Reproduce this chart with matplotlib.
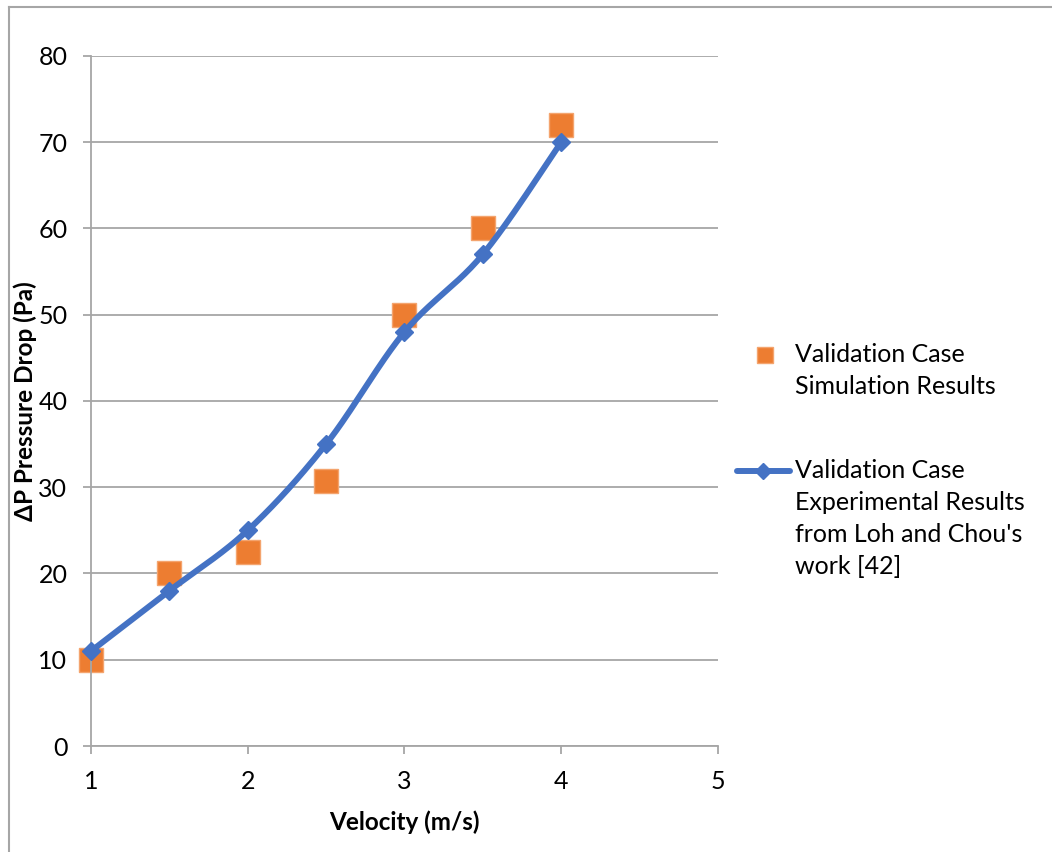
import matplotlib
matplotlib.use('Agg')
import matplotlib.pyplot as plt
from matplotlib.lines import Line2D
import numpy as np

plt.rcParams['font.family'] = ['Lato', 'DejaVu Sans']

# simulation results
sim_v = [1, 1.5, 2, 2.5, 3, 3.5, 4]
sim_dp = [10, 20, 22.5, 30.7, 50, 60, 72]

# experimental results (Loh and Chou)
exp_v = [1, 1.5, 2, 2.5, 3, 3.5, 4]
exp_dp = [11, 18, 25, 35, 48, 57, 70]

xticks = [1, 2, 3, 4, 5]
yticks = [0, 10, 20, 30, 40, 50, 60, 70, 80]

blue = '#4472C4'
orange = '#ED7D31'
grid_col = '#a6a6a6'


def smooth(x, y, n=40):
    # catmull-rom through the points, same look as spreadsheet "smoothed line"
    p = np.column_stack([x, y]).astype(float)
    p = np.vstack([p[0], p, p[-1]])
    out = []
    t = np.linspace(0, 1, n)[:, None]
    for i in range(1, len(p) - 2):
        p0, p1, p2, p3 = p[i - 1], p[i], p[i + 1], p[i + 2]
        seg = 0.5 * ((2 * p1) + (-p0 + p2) * t
                     + (2 * p0 - 5 * p1 + 4 * p2 - p3) * t ** 2
                     + (-p0 + 3 * p1 - 3 * p2 + p3) * t ** 3)
        out.append(seg if i == 1 else seg[1:])
    out = np.vstack(out)
    return out[:, 0], out[:, 1]


fig = plt.figure(figsize=(10.52, 8.52), dpi=100)
ax = fig.add_axes([0.0865, 0.1244, 0.596, 0.81])

sx, sy = smooth(exp_v, exp_dp)
ax.plot(sx, sy, color=blue, lw=4.3, solid_capstyle='round', zorder=3, clip_on=False)
ax.plot(exp_v, exp_dp, ls='none', marker='D', ms=9, color=blue, zorder=4, clip_on=False)
ax.plot(sim_v, sim_dp, ls='none', marker='s', ms=17, color=orange,
        markeredgecolor='#F4A46E', markeredgewidth=1, zorder=2, clip_on=False)

ax.set_xlim(1, 5)
ax.set_ylim(0, 80)
ax.set_xticks(xticks)
ax.set_yticks(yticks)
ax.yaxis.grid(True, color=grid_col, lw=1.3)
ax.set_axisbelow(True)
for s in ['top', 'right']:
    ax.spines[s].set_visible(False)
for s in ['left', 'bottom']:
    ax.spines[s].set_color(grid_col)
    ax.spines[s].set_linewidth(1.3)
ax.tick_params(axis='both', color=grid_col, width=1.3, length=6, labelsize=18)
ax.tick_params(axis='y', pad=11)
ax.tick_params(axis='x', pad=11)
ax.set_xlabel('Velocity (m/s)', fontsize=17.5, fontweight='bold')
ax.set_ylabel('ΔP Pressure Drop (Pa)', fontsize=17.5, fontweight='bold')
ax.xaxis.set_label_coords(0.5, -0.094)
ax.yaxis.set_label_coords(-0.086, 0.5)

# legend on the right, handles aligned with the first text line
W, H = 1052, 852
fig.add_artist(Line2D([765 / W], [1 - 355 / H], marker='s', ms=12, color=orange,
                      markeredgecolor='#F4A46E', ls='none'))
fig.add_artist(Line2D([737 / W, 790 / W], [1 - 471 / H] * 2, color=blue, lw=4.3,
                      solid_capstyle='round'))
fig.add_artist(Line2D([763 / W], [1 - 471 / H], marker='D', ms=8, color=blue, ls='none'))
fig.text(795 / W, 1 - 343 / H, 'Validation Case\nSimulation Results', fontsize=18,
         va='top', ha='left', linespacing=1.47)
fig.text(795 / W, 1 - 459 / H,
         "Validation Case\nExperimental Results\nfrom Loh and Chou's\nwork [42]",
         fontsize=18, va='top', ha='left', linespacing=1.47)

# chart frame (left and top edges)
fig.add_artist(Line2D([9 / W, 9 / W], [0, 1 - 7 / H], color=grid_col, lw=1.5))
fig.add_artist(Line2D([9 / W, 1], [1 - 7 / H, 1 - 7 / H], color=grid_col, lw=1.5))

fig.savefig('out.png', dpi=100)
